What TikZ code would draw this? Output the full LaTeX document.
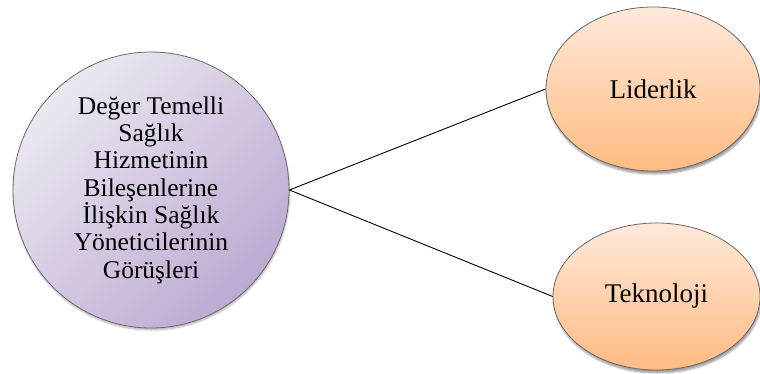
\documentclass[tikz,border=0pt]{standalone}
\usepackage{fontspec}
\setmainfont{Liberation Serif}
\usetikzlibrary{shapes.geometric,shadows.blur}
\definecolor{purpL}{HTML}{ECE8F1}
\definecolor{purpD}{HTML}{BCAAD1}
\definecolor{orL}{HTML}{FFE9DA}
\definecolor{orD}{HTML}{FFBB82}
\definecolor{edgeg}{HTML}{6A6A6A}
\begin{document}
\begin{tikzpicture}[x=1pt,y=-1pt,
  mainc/.style={circle, draw=edgeg, line width=0.8pt, minimum size=276pt, inner sep=0pt,
    top color=purpL, bottom color=purpD, shading angle=45,
    align=center, font=\fontsize{25.5}{27.3}\selectfont,
    blur shadow={shadow xshift=0.5pt, shadow yshift=-2pt, shadow blur steps=6, shadow opacity=30}},
  orell/.style={ellipse, draw=edgeg, line width=0.8pt, inner sep=0pt,
    top color=orL, bottom color=orD,
    font=\fontsize{27}{32}\selectfont,
    blur shadow={shadow xshift=1pt, shadow yshift=-3pt, shadow blur steps=6, shadow opacity=40}},
  link/.style={draw=black, line width=0.9pt}]
\useasboundingbox (0,0) rectangle (760,374);
\node[mainc] (c) at (151,190) {Değer Temelli\\Sağlık\\Hizmetinin\\Bileşenlerine\\İlişkin Sağlık\\Yöneticilerinin\\Görüşleri};
\node[orell, minimum width=214pt, minimum height=164pt] (l) at (653,89) {Liderlik};
\node[orell, minimum width=207pt, minimum height=147pt] (t) at (656.5,296.5) {Teknoloji};
\draw[link] (c.east) -- (l.west);
\draw[link] (c.east) -- (t.west);
\end{tikzpicture}
\end{document}
